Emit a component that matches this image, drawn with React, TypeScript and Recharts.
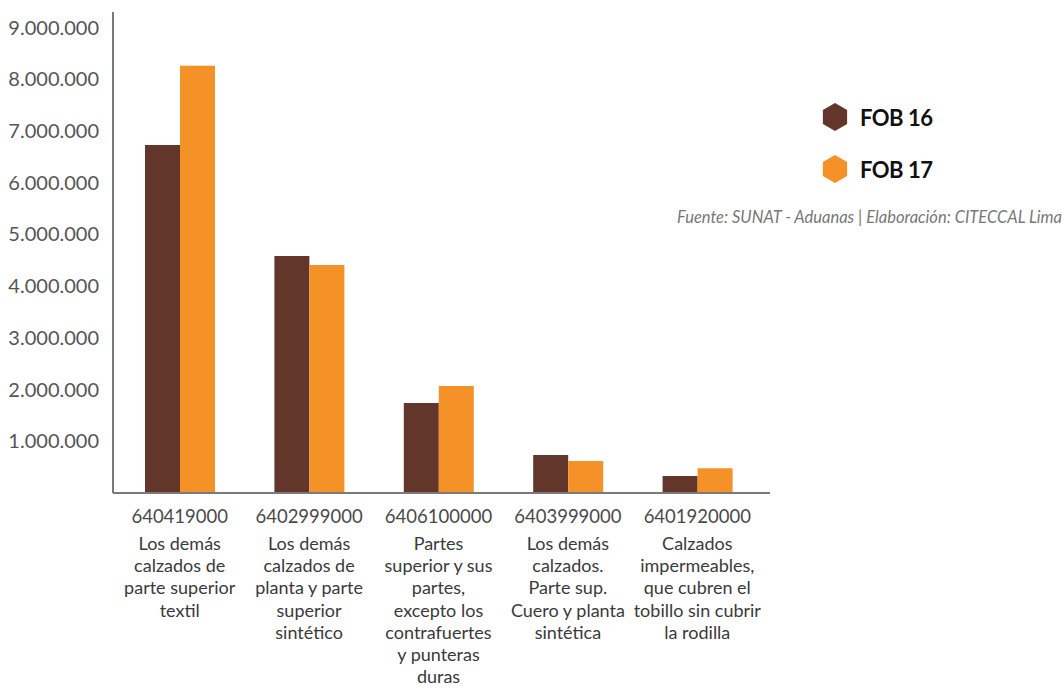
import React from "react"
import { BarChart, Bar, XAxis, YAxis } from "recharts"

const codes = ["640419000", "6402999000", "6406100000", "6403999000", "6401920000"]
const descriptions = [
  ["Los demás", "calzados de", "parte superior", "textil"],
  ["Los demás", "calzados de", "planta y parte", "superior", "sintético"],
  ["Partes", "superior y sus", "partes,", "excepto los", "contrafuertes", "y punteras", "duras"],
  ["Los demás", "calzados.", "Parte sup.", "Cuero y planta", "sintética"],
  ["Calzados", "impermeables,", "que cubren el", "tobillo sin cubrir", "la rodilla"],
]
const fob16 = [6730000, 4580000, 1740000, 735000, 330000]
const fob17 = [8260000, 4410000, 2070000, 620000, 480000]
const yTicks = [1000000, 2000000, 3000000, 4000000, 5000000, 6000000, 7000000, 8000000, 9000000]
const seriesNames = ["FOB 16", "FOB 17"]

const BROWN = "#63362b"
const ORANGE = "#f59227"
const FONT = "Lato, 'Open Sans', sans-serif"

const data = codes.map((code, i) => ({
  code,
  fob16: fob16[i],
  fob17: fob17[i],
}))

const fmt = (v: number) => v.toLocaleString("de-DE")

function CategoryTick(props: any) {
  const { x, y, payload, index } = props
  const lines = descriptions[index] || []
  return (
    <g transform={`translate(${x},${y})`}>
      <text x={0} y={22} textAnchor="middle" fontSize={18.5} fill="#4a4a4a" fontFamily={FONT}>
        {payload.value}
      </text>
      {lines.map((l, i) => (
        <text key={i} x={0} y={49 + i * 22.2} textAnchor="middle" fontSize={18} fill="#3a3a3a" fontFamily={FONT}>
          {l}
        </text>
      ))}
    </g>
  )
}

function Hexagon({ cx, cy, r, color }: { cx: number; cy: number; r: number; color: string }) {
  const pts = [0, 1, 2, 3, 4, 5]
    .map((k) => {
      const a = (Math.PI / 3) * k - Math.PI / 2
      return `${cx + r * Math.cos(a)},${cy + r * Math.sin(a)}`
    })
    .join(" ")
  return <polygon points={pts} fill={color} />
}

function LegendBox() {
  const colors = [BROWN, ORANGE]
  return (
    <div style={{ position: "absolute", left: 820, top: 91, fontFamily: FONT }}>
      {seriesNames.map((label, i) => (
        <div key={label} style={{ display: "flex", alignItems: "center", height: 52 }}>
          <svg width={30} height={30}>
            <Hexagon cx={15} cy={15} r={14} color={colors[i]} />
          </svg>
          <span style={{ marginLeft: 10, fontSize: 22, fontWeight: 700, color: "#111", letterSpacing: -0.5 }}>
            {label}
          </span>
        </div>
      ))}
    </div>
  )
}

export default function App() {
  return (
    <div style={{ position: "absolute", left: 0, top: 0, width: 1064, height: 688, background: "#fff" }}>
      <BarChart
        width={1064}
        height={688}
        data={data}
        margin={{ top: 12, right: 294, left: 0, bottom: 0 }}
        barGap={0}
        barCategoryGap="23%"
      >
        <XAxis
          dataKey="code"
          height={195}
          interval={0}
          tick={<CategoryTick />}
          tickLine={false}
          axisLine={{ stroke: "#7a7a7a", strokeWidth: 2 }}
          padding={{ left: 2, right: 8 }}
        />
        <YAxis
          width={113}
          domain={[0, 9300000]}
          ticks={yTicks}
          tickFormatter={fmt}
          tickLine={false}
          axisLine={{ stroke: "#7a7a7a", strokeWidth: 2 }}
          tick={{ fontSize: 20, fill: "#555", fontFamily: FONT }}
          tickMargin={8}
        />
        <Bar dataKey="fob16" name={seriesNames[0]} fill={BROWN} barSize={35} isAnimationActive={false} />
        <Bar dataKey="fob17" name={seriesNames[1]} fill={ORANGE} barSize={35} isAnimationActive={false} />
      </BarChart>
      <LegendBox />
      <div
        style={{
          position: "absolute",
          right: 2,
          top: 207,
          fontFamily: FONT,
          fontSize: 16.5,
          fontStyle: "italic",
          color: "#777",
          whiteSpace: "nowrap",
        }}
      >
        Fuente: SUNAT - Aduanas | Elaboración: CITECCAL Lima
      </div>
    </div>
  )
}
